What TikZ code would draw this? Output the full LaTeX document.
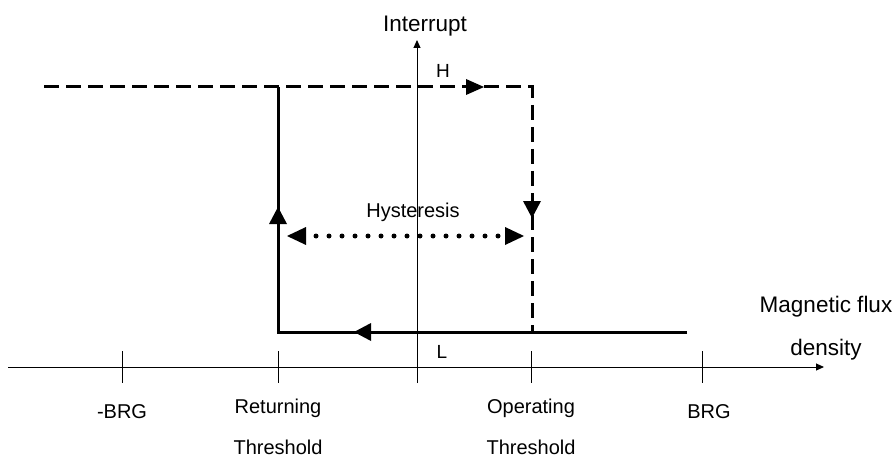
\documentclass[tikz,border=0pt]{standalone}
\usepackage{fontspec}
\setmainfont{Liberation Sans}
\usetikzlibrary{arrows.meta}
\tikzset{
  axis/.style={line width=1pt, -{Triangle[length=8pt,width=7pt]}},
  tick/.style={line width=1pt},
  thickline/.style={line width=3pt, line join=miter},
  dashline/.style={line width=3pt, dash pattern=on 15pt off 7pt},
  dotline/.style={line width=5pt, line cap=round, dash pattern=on 0pt off 13pt},
  lbl/.style={anchor=base, inner sep=0pt, font=\fontsize{20}{24}\selectfont},
  biglbl/.style={anchor=base, inner sep=0pt, font=\fontsize{22.5}{27}\selectfont},
}
\begin{document}
\begin{tikzpicture}[x=1pt,y=-1pt]
\useasboundingbox (0,0) rectangle (896,457);
% axes
\coordinate (xs) at (8,367);
\coordinate (xe) at (824,367);
\coordinate (ys) at (417,383);
\coordinate (ye) at (417,40);
\draw[axis] (xs) -- (xe);
\draw[axis] (ys) -- (ye);
% ticks
\foreach \n/\x in {t1/122, t2/278, t3/531, t4/702} {
  \coordinate (\n a) at (\x,351);
  \coordinate (\n b) at (\x,383);
  \draw[tick] (\n a) -- (\n b);
}
% hysteresis loop corners
\coordinate (tl) at (44,87);
\coordinate (tr) at (532,87);
\coordinate (br) at (532,332);
\coordinate (bl) at (278,332);
\coordinate (be) at (687,332);
\coordinate (lt) at (278,87);
\draw[dashline] (tl) -- (tr) -- (br);
\draw[thickline] (be) -- (bl) -- (lt);
% direction arrowheads
\fill (484,87) -- (466,79) -- (466,95) -- cycle;
\fill (532,218) -- (523,201) -- (541,201) -- cycle;
\fill (278,207) -- (269,224) -- (287,224) -- cycle;
\fill (354,332) -- (371,323) -- (371,341) -- cycle;
% hysteresis double arrow
\coordinate (hl) at (287,236);
\coordinate (hr) at (524,236);
\draw[dotline] (316,236) -- (499,236);
\fill (hl) -- (306,227) -- (306,245) -- cycle;
\fill (hr) -- (505,227) -- (505,245) -- cycle;
% labels
\node[biglbl] (interrupt) at (425,32) {Interrupt};
\node[lbl, font=\fontsize{19}{23}\selectfont] (H) at (443,78) {H};
\node[lbl] (hyst) at (413,217) {Hysteresis};
\node[lbl, font=\fontsize{19}{23}\selectfont] (L) at (442,358) {L};
\node[biglbl] (mag) at (826,312) {Magnetic flux};
\node[biglbl] (dens) at (826,355) {density};
\node[lbl] (mbrg) at (122,418) {-BRG};
\node[lbl] (ret) at (278,413) {Returning};
\node[lbl] (rth) at (278,454) {Threshold};
\node[lbl] (op) at (531,413) {Operating};
\node[lbl] (oth) at (531,454) {Threshold};
\node[lbl] (brg) at (709,418) {BRG};
\end{tikzpicture}
\end{document}
